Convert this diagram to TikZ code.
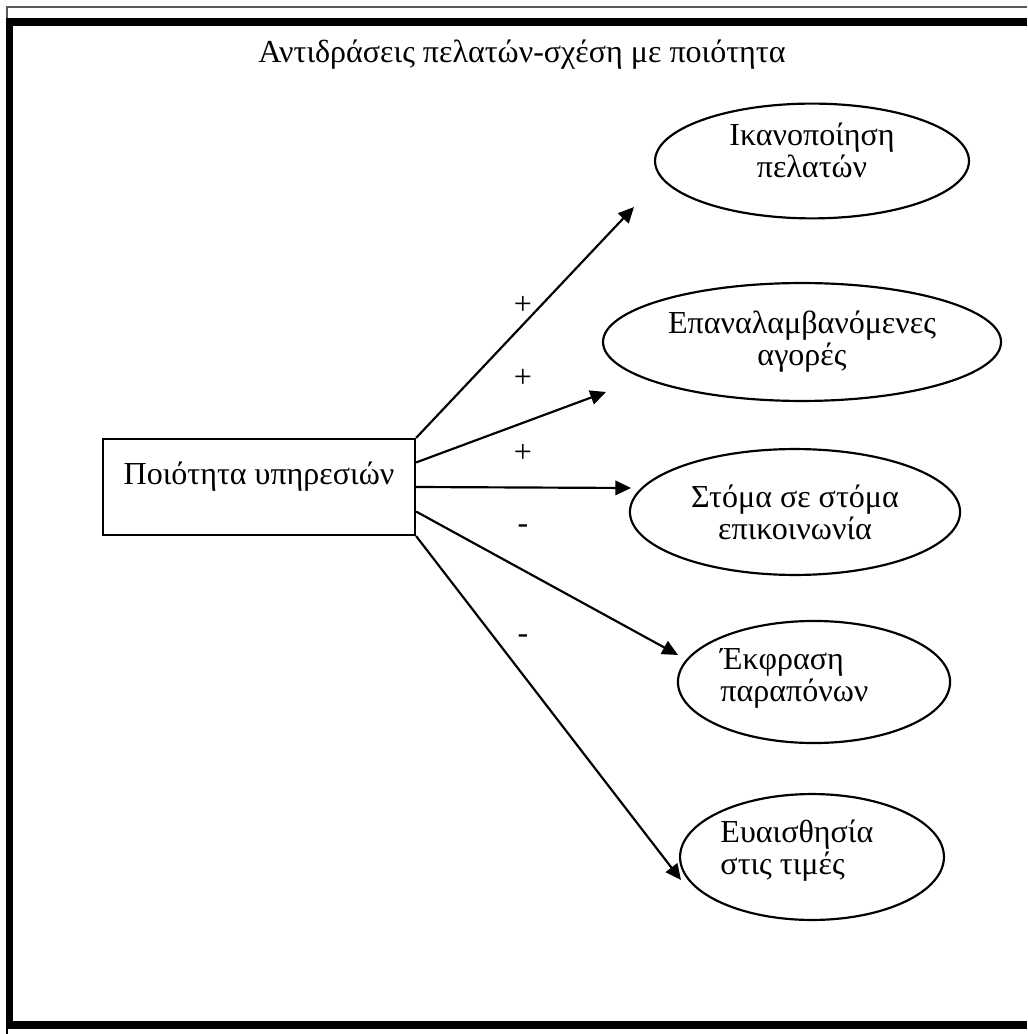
\documentclass[tikz,border=0pt]{standalone}
\usepackage{fontspec}
\setmainfont{Liberation Serif}
\usetikzlibrary{arrows.meta, shapes.geometric, calc}

\begin{document}
\begin{tikzpicture}[x=0.4138pt, y=-0.4138pt,
  every node/.style={font=\fontsize{13.25}{11.8}\selectfont},
  oval/.style={draw, ellipse, line width=0.9pt, inner sep=0pt},
  txt/.style={inner sep=0pt, align=center},
  link/.style={line width=0.9pt, -{Triangle[length=6.5pt, width=6pt]}}]

  \useasboundingbox (0,0) rectangle (1027,1034);

  % Frame
  \draw[black!65, line width=0.6pt] (1027,7) -- (7,7) -- (7,19);
  \draw[line width=3.3pt] (1027,22) -- (9.5,22) -- (9.5,1025) -- (1027,1025);
  \draw[line width=0.6pt] (7,1029) -- (7,1034);

  % Title
  \node (title) at (522,55) {Αντιδράσεις πελατών-σχέση με ποιότητα};

  % Source box
  \node[draw, line width=0.9pt, minimum width=129.1pt, minimum height=39.7pt,
        inner sep=0pt, align=center] (box) at (259,487) {Ποιότητα υπηρεσιών\\~};

  % Outcome ellipses
  \node[oval, minimum width=129.9pt, minimum height=47.5pt] (sat) at (812,161) {};
  \node[oval, minimum width=164.7pt, minimum height=48.8pt] (rep) at (802,342) {};
  \node[oval, minimum width=136.6pt, minimum height=52.1pt] (wom) at (795,512) {};
  \node[oval, minimum width=112.6pt, minimum height=50.5pt] (cmp) at (814,682) {};
  \node[oval, minimum width=109.2pt, minimum height=52.1pt] (prc) at (812,857) {};

  \node[txt, yshift=4.5pt] (sat-t) at (sat) {Ικανοποίηση\\πελατών};
  \node[txt] (rep-t) at (rep) {Επαναλαμβανόμενες\\αγορές};
  \node[txt] (wom-t) at (wom) {Στόμα σε στόμα\\επικοινωνία};
  \node[txt, align=left, anchor=west, yshift=1.5pt] (cmp-t) at (720,682) {Έκφραση\\παραπόνων};
  \node[txt, align=left, anchor=west, yshift=2.5pt] (prc-t) at (720,857) {Ευαισθησία\\στις τιμές};

  % Arrows
  \coordinate (t1) at (634,207);
  \coordinate (t2) at (606,392);
  \coordinate (t3) at (631,488);
  \coordinate (t4) at (678,655);
  \coordinate (t5) at (681,880);

  \draw[link] (box.north east) -- (t1);
  \draw[link] ($(box.north east)!.25!(box.south east)$) -- (t2);
  \draw[link] (box.east) -- (t3);
  \draw[link] ($(box.north east)!.75!(box.south east)$) -- (t4);
  \draw[link] (box.south east) -- (t5);

  % Signs
  \node (s1) at (523,305) {+};
  \node (s2) at (523,378) {+};
  \node (s3) at (523,453) {+};
  \node (s4) at (523,529) {-};
  \node (s5) at (523,639) {-};

\end{tikzpicture}
\end{document}
